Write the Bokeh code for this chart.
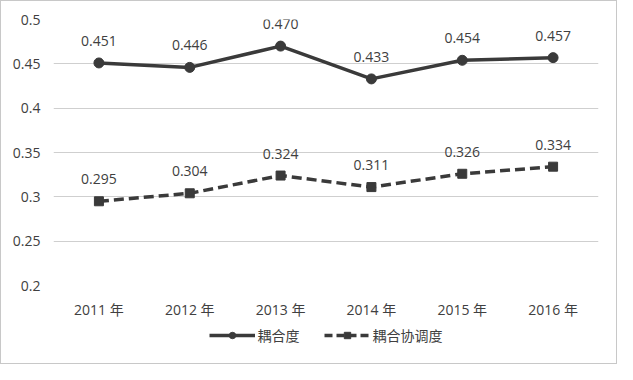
from bokeh.plotting import figure
from bokeh.models import FactorRange, Range1d, FixedTicker, CustomJSTickFormatter, Legend, LegendItem, ColumnDataSource
from bokeh.layouts import column
from bokeh.core.properties import value
from bokeh.embed import file_html
from bokeh.resources import INLINE

years = ["2011 年", "2012 年", "2013 年", "2014 年", "2015 年", "2016 年"]
coupling = [0.451, 0.446, 0.470, 0.433, 0.454, 0.457]
coordination = [0.295, 0.304, 0.324, 0.311, 0.326, 0.334]
series_names = ["耦合度", "耦合协调度"]
y_ticks = [0.2, 0.25, 0.3, 0.35, 0.4, 0.45, 0.5]

FONT = "'Open Sans', 'Noto Sans CJK SC', sans-serif"
TXT = "#404040"
LINE = "#3a3a3a"
W = 615

p = figure(width=W, height=322, x_range=FactorRange(*years, range_padding=0),
           y_range=Range1d(0.2, 0.5), output_backend="svg", toolbar_location=None,
           min_border_left=52, min_border_right=18, min_border_top=18, min_border_bottom=38)
p.outline_line_color = None
p.border_fill_color = "white"

p.xgrid.grid_line_color = None
p.ygrid.grid_line_color = "#cfcfcf"
p.ygrid.grid_line_width = 1
p.yaxis.ticker = FixedTicker(ticks=y_ticks)
p.yaxis.formatter = CustomJSTickFormatter(code="return String(Math.round(tick*100)/100);")
for ax in (p.xaxis, p.yaxis):
    ax.axis_line_color = None
    ax.major_tick_line_color = None
    ax.minor_tick_line_color = None
    ax.major_tick_out = 0
    ax.major_tick_in = 0
    ax.major_label_text_font = FONT
    ax.major_label_text_font_size = "14px"
    ax.major_label_text_color = TXT
p.yaxis.major_label_standoff = 13
p.xaxis.major_label_standoff = 14

src1 = ColumnDataSource(dict(x=years, y=coupling, t=["%.3f" % v for v in coupling]))
src2 = ColumnDataSource(dict(x=years, y=coordination, t=["%.3f" % v for v in coordination]))

p.line("x", "y", source=src1, line_color=LINE, line_width=3.5)
p.scatter("x", "y", source=src1, marker="circle", size=10, fill_color=LINE, line_color=LINE)
p.line("x", "y", source=src2, line_color=LINE, line_width=3.5, line_dash="10 5")
p.scatter("x", "y", source=src2, marker="square", size=9, fill_color=LINE, line_color=LINE)

for s in (src1, src2):
    p.text("x", "y", text="t", source=s, text_align="center", text_baseline="middle",
           y_offset=-22, text_font=value(FONT), text_font_size="14px", text_color=TXT)

# legend strip (proxy renderers placed outside the visible range)
lg = figure(width=W, height=40, x_range=Range1d(0, 1), y_range=Range1d(0, 1),
            output_backend="svg", toolbar_location=None, min_border=0)
lg.axis.visible = False
lg.grid.visible = False
lg.outline_line_color = None
r1 = lg.line([5, 6], [5, 6], line_color=LINE, line_width=3.5)
s1 = lg.scatter([5], [5], marker="circle", size=10, fill_color=LINE, line_color=LINE)
r2 = lg.line([5, 6], [5, 6], line_color=LINE, line_width=3.5, line_dash="8 4")
s2 = lg.scatter([5], [5], marker="square", size=9, fill_color=LINE, line_color=LINE)
legend = Legend(items=[LegendItem(label=series_names[0], renderers=[r1, s1]),
                       LegendItem(label=series_names[1], renderers=[r2, s2])],
                orientation="horizontal", location="top_center",
                label_text_font=FONT, label_text_font_size="14px", label_text_color=TXT,
                border_line_color=None, background_fill_alpha=0,
                glyph_width=46, glyph_height=16, spacing=24, padding=4, margin=2,
                label_standoff=3)
lg.add_layout(legend, "center")

layout = column(p, lg, spacing=0)
layout.styles = {"border": "1px solid #c8c8c8"}

open("out.html", "w").write(file_html(layout, INLINE))
